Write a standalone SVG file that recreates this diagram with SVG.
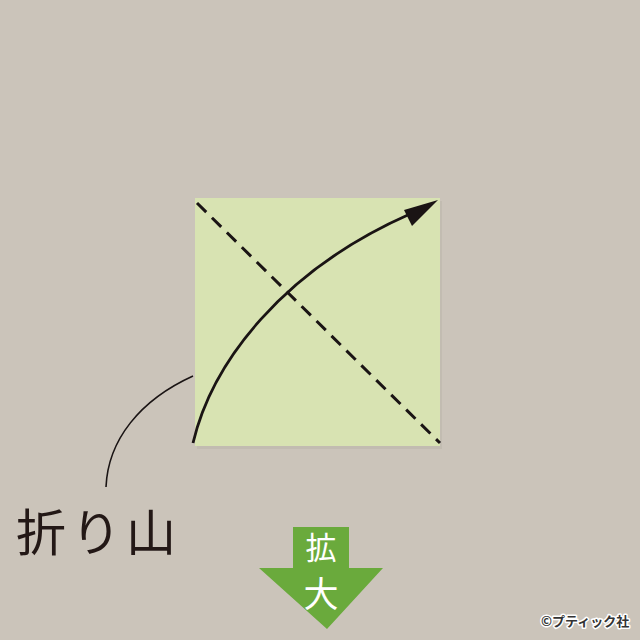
<svg xmlns="http://www.w3.org/2000/svg" width="640" height="640" viewBox="0 0 640 640">
<defs>
<style>
.dash{stroke:#1a1414;stroke-width:3;stroke-dasharray:13 8;fill:none}
.line{stroke:#1a1414;fill:none}
.jp{font-family:"Noto Sans CJK JP","Noto Sans",sans-serif}
</style>
</defs>
<rect width="640" height="640" fill="#cbc4ba"/>
<g id="paper">
<rect x="197" y="201" width="245" height="248" fill="#b9b3a8" opacity="0.5"/>
<rect x="195" y="198" width="245" height="248" fill="#d8e3b2"/>
</g>
<g id="connectors">
<line class="dash" x1="197" y1="203" x2="440" y2="443"/>
<path class="line" stroke-width="2.8" d="M193,443 C212,362 283,270 410,214"/>
<path d="M438,200 L404,210 L412,226 z" fill="#1a1414"/>
<path class="line" stroke-width="1.6" d="M193,376 C140,400 108,440 106,487"/>
</g>
<g id="label">
<text class="jp" x="16" y="551" font-size="50" fill="#231816" letter-spacing="5">折り山</text>
</g>
<g id="zoom-arrow">
<path d="M293,527 L349,527 L349,568 L383,568 L327,629 L259,568 L293,568 z" fill="#6aaa3c"/>
<text class="jp" x="321" y="559" font-size="31" fill="#ffffff" text-anchor="middle">拡</text>
<text class="jp" x="321" y="607" font-size="35" fill="#ffffff" text-anchor="middle">大</text>
</g>
<g id="copyright">
<text class="jp" x="541" y="626" font-size="13" font-weight="bold" fill="#333" stroke="#fff" stroke-width="3" paint-order="stroke" stroke-linejoin="round">©プティック社</text>
</g>
</svg>
